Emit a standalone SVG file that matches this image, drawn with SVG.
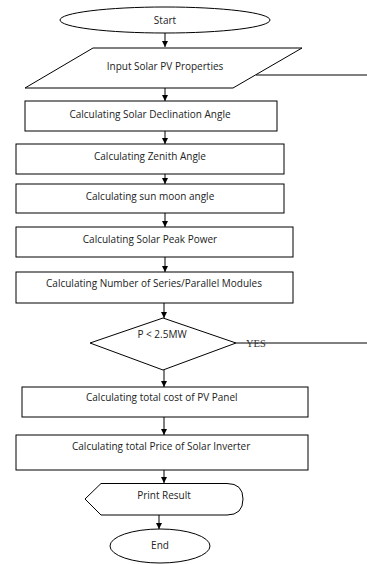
<svg xmlns="http://www.w3.org/2000/svg" width="367" height="564" viewBox="0 0 367 564">
<style>
.s{fill:#fff;stroke:#000;stroke-width:1}
.t{font-family:"Open Sans","Liberation Sans",Arial,sans-serif;font-size:10px;fill:#222;text-anchor:middle}
.l{text-anchor:start}
.c{stroke:#000;stroke-width:1;fill:none}
</style>
<defs>
<marker id="a" viewBox="0 0 8 8" refX="8" refY="4" markerWidth="6" markerHeight="6" orient="auto" markerUnits="userSpaceOnUse">
<path d="M0,0 L8,4 L0,8 z" fill="#000"/>
</marker>
</defs>
<rect width="367" height="564" fill="#fff"/>
<g id="connectors">
<line class="c" x1="165" y1="33" x2="165" y2="47" marker-end="url(#a)"/>
<line class="c" x1="165" y1="88" x2="165" y2="101" marker-end="url(#a)"/>
<line class="c" x1="165" y1="131" x2="165" y2="144" marker-end="url(#a)"/>
<line class="c" x1="165" y1="174" x2="165" y2="184" marker-end="url(#a)"/>
<line class="c" x1="165" y1="213" x2="165" y2="227" marker-end="url(#a)"/>
<line class="c" x1="165" y1="257" x2="165" y2="272" marker-end="url(#a)"/>
<line class="c" x1="164" y1="303" x2="164" y2="318" marker-end="url(#a)"/>
<line class="c" x1="164" y1="370" x2="164" y2="387" marker-end="url(#a)"/>
<line class="c" x1="164" y1="417" x2="164" y2="435" marker-end="url(#a)"/>
<line class="c" x1="164" y1="470" x2="164" y2="483" marker-end="url(#a)"/>
<line class="c" x1="159" y1="515" x2="159" y2="529" marker-end="url(#a)"/>
<line class="c" x1="256" y1="75" x2="367" y2="75"/>
<line class="c" x1="236" y1="343" x2="367" y2="343"/>
</g>
<g id="start"><ellipse class="s" cx="165" cy="20" rx="105" ry="13"/><text class="t" x="165" y="24">Start</text></g>
<g id="input"><polygon class="s" points="93,48 302,48 233,88 25,88"/><text class="t" x="165" y="70">Input Solar PV Properties</text></g>
<g id="declination"><rect class="s" x="25" y="101" width="252" height="30"/><text class="t" x="150" y="118">Calculating Solar Declination Angle</text></g>
<g id="zenith"><rect class="s" x="16" y="144" width="268" height="30"/><text class="t" x="150" y="160">Calculating Zenith Angle</text></g>
<g id="sunmoon"><rect class="s" x="16" y="184" width="268" height="29"/><text class="t" x="150" y="200">Calculating sun moon angle</text></g>
<g id="peak"><rect class="s" x="16" y="227" width="277" height="30"/><text class="t" x="150" y="243">Calculating Solar Peak Power</text></g>
<g id="modules"><rect class="s" x="16" y="272" width="277" height="31"/><text class="t" x="154" y="287">Calculating Number of Series/Parallel Modules</text></g>
<g id="decision"><polygon class="s" points="163,318 236,343 163,370 90,343"/><text class="t" x="162" y="338">P &lt; 2.5MW</text><text x="246" y="347" style="font-family:'Liberation Serif','Times New Roman',serif;font-size:10.5px;fill:#333">YES</text></g>
<g id="cost"><rect class="s" x="22" y="387" width="286" height="30"/><text class="t l" x="86" y="401">Calculating total cost of PV Panel</text></g>
<g id="inverter"><rect class="s" x="16" y="435" width="292" height="35"/><text class="t l" x="72" y="450">Calculating total Price of Solar Inverter</text></g>
<g id="print"><path class="s" d="M85,499 L101,483.5 L227,483.5 Q243,483.5 243,499 Q243,515 227,515 L101,515 Z"/><text class="t" x="164" y="499">Print Result</text></g>
<g id="end"><ellipse class="s" cx="160" cy="546" rx="50" ry="17"/><text class="t" x="160" y="549">End</text></g>
</svg>
